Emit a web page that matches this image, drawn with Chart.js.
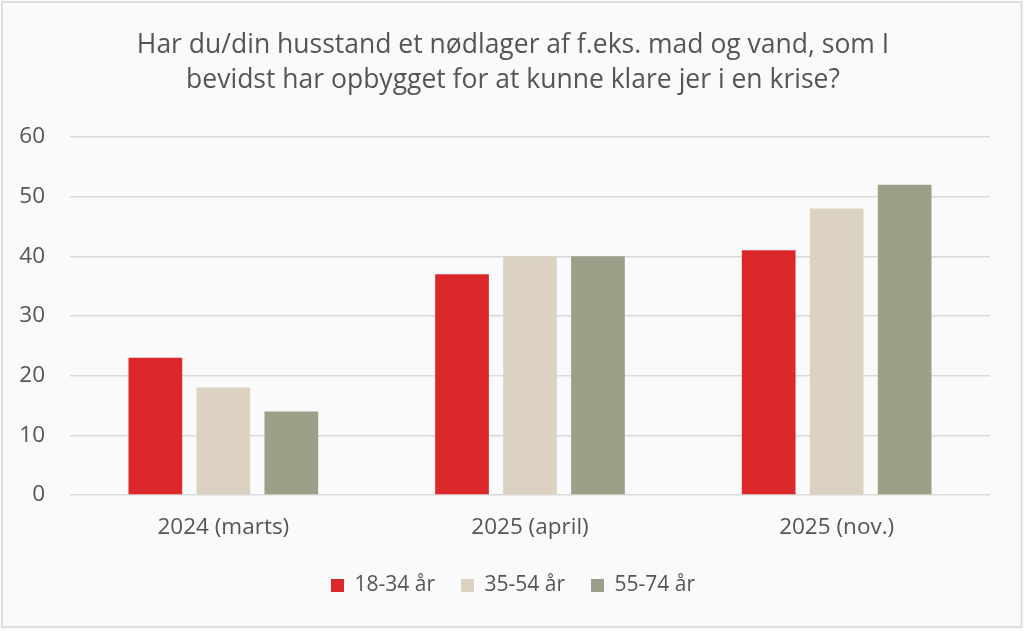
<!DOCTYPE html>
<html>
<head>
<meta charset="utf-8">
<script src="https://cdn.jsdelivr.net/npm/chart.js@4"></script>
<style>
  html, body { margin: 0; padding: 0; background: #ffffff; }
  #wrap { position: absolute; left: 0; top: 0; width: 1024px; height: 631px; }
</style>
</head>
<body>
<div id="wrap"><canvas id="c" width="1024" height="631"></canvas></div>
<script>
const categories = ["2024 (marts)", "2025 (april)", "2025 (nov.)"];
const seriesNames = ["18-34 år", "35-54 år", "55-74 år"];
const age18_34 = [23, 37, 41];
const age35_54 = [18, 40, 48];
const age55_74 = [14, 40, 52];
const yTicks = [0, 10, 20, 30, 40, 50, 60];
const titleLines = ["Har du/din husstand et nødlager af f.eks. mad og vand, som I", "bevidst har opbygget for at kunne klare jer i en krise?"];

const colors = ["#dc282a", "#dbd2c1", "#9e9f89"];
const textColor = "#555555";
const fontFamily = "'Open Sans', 'Liberation Sans', sans-serif";

const frame = {
  id: 'frame',
  beforeDraw(chart) {
    const ctx = chart.ctx;
    ctx.save();
    ctx.fillStyle = '#fafafa';
    ctx.fillRect(0, 0, chart.width, chart.height);
    ctx.strokeStyle = '#d6d6d6';
    ctx.lineWidth = 1.5;
    ctx.strokeRect(2, 2, chart.width - 4.5, chart.height - 6);
    ctx.restore();
  }
};

new Chart(document.getElementById('c'), {
  type: 'bar',
  data: {
    labels: categories,
    datasets: [
      { label: seriesNames[0], data: age18_34, backgroundColor: colors[0] },
      { label: seriesNames[1], data: age35_54, backgroundColor: colors[1] },
      { label: seriesNames[2], data: age55_74, backgroundColor: colors[2] }
    ]
  },
  options: {
    responsive: false,
    animation: false,
    devicePixelRatio: 1,
    categoryPercentage: 0.665,
    barPercentage: 0.79,
    layout: { padding: { left: 18, right: 16, top: 0, bottom: 25 } },
    plugins: {
      title: {
        display: true,
        text: titleLines,
        color: textColor,
        font: { family: fontFamily, size: 26.5, weight: 'normal', lineHeight: 1.31 },
        padding: { top: 28.5, bottom: 39 }
      },
      legend: {
        position: 'bottom',
        labels: {
          color: textColor,
          font: { family: fontFamily, size: 21 },
          boxWidth: 13,
          boxHeight: 13,
          padding: 26
        }
      },
      tooltip: { enabled: false }
    },
    scales: {
      x: {
        grid: { display: false },
        border: { display: false },
        afterFit(scale) { scale.height = 54; },
        ticks: { color: textColor, font: { family: fontFamily, size: 22.5 }, padding: 11.5 }
      },
      y: {
        min: 0,
        max: 60,
        afterBuildTicks(scale) { scale.ticks = yTicks.map(v => ({ value: v })); },
        afterFit(scale) { scale.width = 52; },
        grid: { color: '#d9d9d9', lineWidth: 1.5, drawTicks: false },
        border: { display: false },
        ticks: { color: textColor, font: { family: fontFamily, size: 22.5 }, padding: 25 }
      },
      yRight: {
        position: 'right',
        min: 0,
        max: 60,
        afterFit(scale) { scale.width = 18; },
        grid: { display: false, drawTicks: false },
        border: { display: false },
        ticks: { display: false }
      }
    }
  },
  plugins: [frame]
});
</script>
</body>
</html>
